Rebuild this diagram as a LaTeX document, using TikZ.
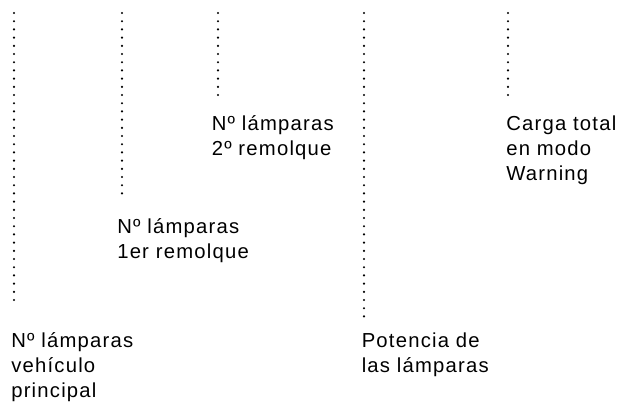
\documentclass[tikz,border=0pt]{standalone}
\usepackage{fontspec}
\setmainfont{Liberation Sans}[LetterSpace=6]
\usepackage{tikz}
\usetikzlibrary{positioning}

\begin{document}
\begin{tikzpicture}[x=0.75pt, y=-0.75pt]
\tikzstyle{every node}=[inner sep=0pt, anchor=base west, align=left,
                        font=\fontsize{15.2}{18.4}\selectfont]
\tikzstyle{puntos}=[line width=1.8pt, line cap=round,
                    dash pattern=on 0pt off 6.15pt]
\useasboundingbox (0,0) rectangle (619,401);
\path (14,13) coordinate (a1) (14,307) coordinate (b1);
\path (122,13) coordinate (a2) (122,201) coordinate (b2);
\path (218,13) coordinate (a3) (218,101) coordinate (b3);
\path (364,13) coordinate (a4) (364,317) coordinate (b4);
\path (508,13) coordinate (a5) (508,101) coordinate (b5);
% base = last line of each label
\node (vehiculo) at (11,397) {Nº lámparas\\vehículo\\principal};
\node (remolque1) at (117,258.5) {Nº lámparas\\1er remolque};
\node (remolque2) at (211.5,155.5) {Nº lámparas\\2º remolque};
\node (potencia) at (361.5,372.5) {Potencia de\\las lámparas};
\node (carga) at (506,180) {Carga total\\en modo\\Warning};
\foreach \i in {1,...,5}{\draw[puntos] (a\i) -- (b\i);}
\end{tikzpicture}
\end{document}
